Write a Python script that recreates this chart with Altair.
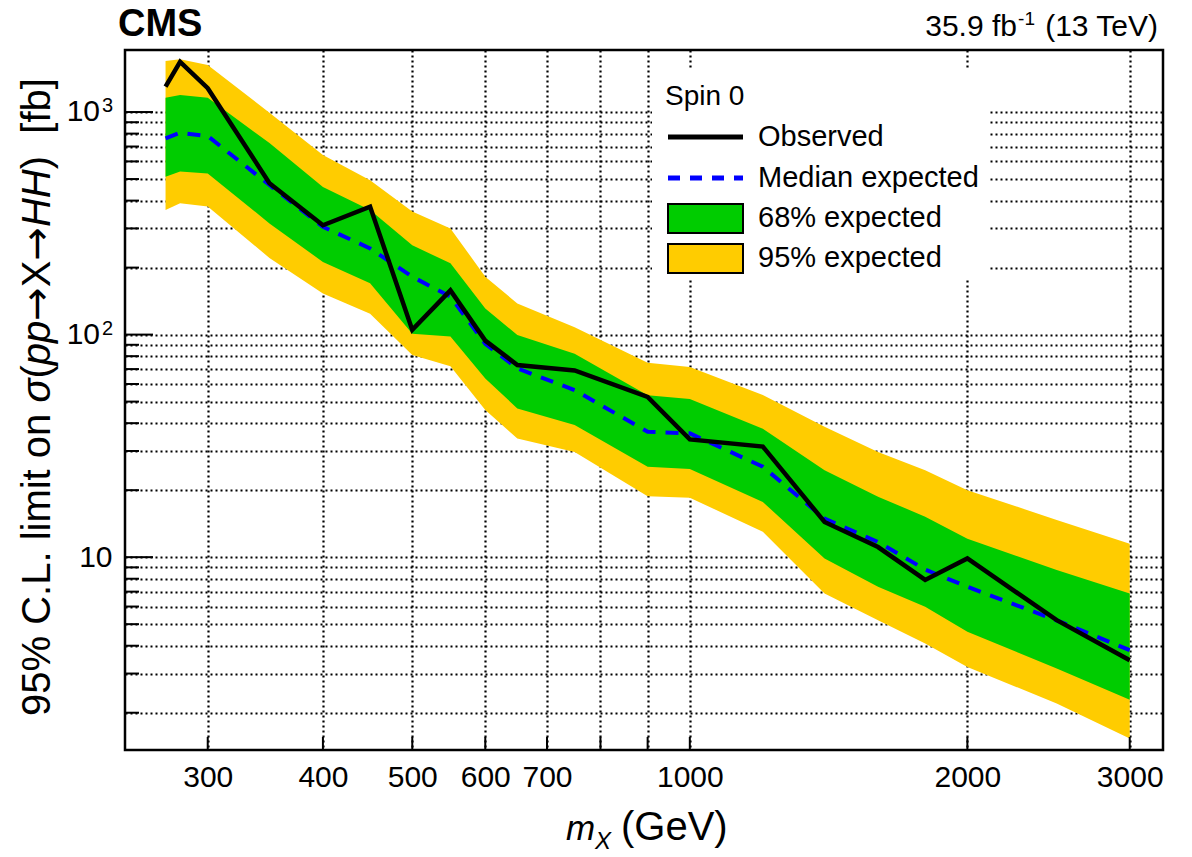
import altair as alt
import pandas as pd

# Resonance mass points (GeV)
mass = [270, 280, 300, 350, 400, 450, 500, 550, 600, 650, 750, 900, 1000,
        1200, 1400, 1600, 1800, 2000, 2500, 3000]

# 95% CL upper limits on sigma(pp -> X -> HH) in fb
observed = [1300, 1680, 1280, 479, 310, 376, 105, 158, 94, 73, 69, 52.5, 33.8,
            31.4, 14.4, 11.1, 7.9, 9.87, 5.21, 3.44]
expected = [762, 807, 780, 470, 305, 244, 182, 148, 91, 70.5, 56.3, 36.6, 36.0,
            25.5, 14.9, 11.7, 8.8, 7.36, 5.2, 3.82]
band68_lo = [512, 540, 530, 316, 212, 170, 101, 98, 63.5, 46.6, 39.2, 25.5, 24.9,
             17.7, 9.87, 7.36, 5.98, 4.62, 3.16, 2.29]
band68_hi = [1159, 1192, 1159, 726, 461, 363, 252, 209, 131, 99.5, 82, 53.4, 51.3,
             37.8, 24.6, 18.7, 15.2, 12.1, 8.75, 6.87]
band95_lo = [363, 389, 376, 221, 153, 124, 81, 72, 45.8, 34.1, 29.7, 18.8, 18.5,
             13.0, 6.87, 5.21, 4.09, 3.21, 2.20, 1.53]
band95_hi = [1694, 1725, 1626, 993, 641, 494, 357, 300, 182, 138, 108, 74.8, 71.6,
             53.5, 38.5, 29.7, 24.6, 20.0, 14.7, 11.5]

# Axis ticks / grid positions
x_grid_values = [300, 400, 500, 600, 700, 800, 900, 1000, 2000, 3000]
y_major = [10, 100, 1000]
y_minor = [2, 3, 4, 5, 6, 7, 8, 9, 20, 30, 40, 50, 60, 70, 80, 90,
           200, 300, 400, 500, 600, 700, 800, 900]
# Power-of-ten labels drawn as "10" with a raised exponent
pow_values = [100, 1000]
pow_exponents = ["2", "3"]

legend_title = "Spin 0"
legend_labels = ["Observed", "Median expected", "68% expected", "95% expected"]

FONT = "Liberation Sans"
W, H = 1038, 700

df = pd.DataFrame({
    "mass": mass, "obs": observed, "exp": expected,
    "lo68": band68_lo, "hi68": band68_hi,
    "lo95": band95_lo, "hi95": band95_hi,
})

xscale = alt.Scale(type="log", domain=[244, 3260], nice=False)
yscale = alt.Scale(type="log", domain=[1.36, 1900], nice=False)

common_axis = dict(
    grid=True, gridColor="black", gridDash=[2, 3], gridWidth=2.2,
    ticks=False, tickSize=0, domain=False, labelFontSize=30,
    labelColor="black", labelFont=FONT, labelOverlap=False,
    labelFlush=False, title=None,
)
x_axis = alt.Axis(
    values=x_grid_values,
    labelExpr="datum.value == 800 || datum.value == 900 ? '' : format(datum.value, 'd')",
    labelBaseline="alphabetic", labelPadding=36, **common_axis,
)
y_axis = alt.Axis(
    values=sorted(y_major + y_minor),
    labelExpr="datum.value == 10 ? '10' : ''",
    labelBaseline="middle", labelPadding=13, **common_axis,
)


def X(field):
    return alt.X(field, scale=xscale, axis=x_axis)


def Y(field):
    return alt.Y(field, scale=yscale, axis=y_axis)


base = alt.Chart(df)

band95 = base.mark_area(color="#FFCC00").encode(
    x=X("mass:Q"), y=Y("lo95:Q"), y2="hi95:Q")
band68 = base.mark_area(color="#00CC00").encode(
    x=X("mass:Q"), y=Y("lo68:Q"), y2="hi68:Q")
median = base.mark_line(color="#0000FF", strokeDash=[13, 10], strokeWidth=4).encode(
    x=X("mass:Q"), y=Y("exp:Q"))
obs_line = base.mark_line(color="black", strokeWidth=4.5, strokeJoin="miter").encode(
    x=X("mass:Q"), y=Y("obs:Q"))

# Inward tick marks along the bottom and left frame edges
x_ticks = alt.Chart(pd.DataFrame({"v": x_grid_values})).mark_rule(
    color="black", strokeWidth=2).encode(
    x=X("v:Q"), y=alt.value(H), y2=alt.value(H - 13))
y_ticks_major = alt.Chart(pd.DataFrame({"v": y_major})).mark_rule(
    color="black", strokeWidth=2).encode(
    y=Y("v:Q"), x=alt.value(0), x2=alt.value(28))
y_ticks_minor = alt.Chart(pd.DataFrame({"v": y_minor})).mark_rule(
    color="black", strokeWidth=2).encode(
    y=Y("v:Q"), x=alt.value(0), x2=alt.value(14))

# 10^2, 10^3 labels on the y axis
pow_df = pd.DataFrame({"v": pow_values, "e": pow_exponents, "b": ["10", "10"]})
pow_base = alt.Chart(pow_df).mark_text(
    align="right", baseline="middle", fontSize=30, font=FONT, color="black").encode(
    y=Y("v:Q"), x=alt.value(-25), text="b:N")
pow_exp = alt.Chart(pow_df).mark_text(
    align="left", baseline="alphabetic", fontSize=20, font=FONT, color="black").encode(
    y=Y("v:Q"), x=alt.value(-23), text="e:N")


def text(t, x, y, size, align="left", baseline="alphabetic", font=FONT, **kw):
    return alt.Chart(pd.DataFrame({"t": [t]})).mark_text(
        align=align, baseline=baseline, fontSize=size, font=font,
        color="black", **kw).encode(
        text="t:N", x=alt.value(x), y=alt.value(y))


one = pd.DataFrame({"k": [0]})

# Legend
leg_box = alt.Chart(one).mark_rect(fill="white").encode(
    x=alt.value(527), x2=alt.value(865), y=alt.value(20), y2=alt.value(230))
leg_obs = alt.Chart(one).mark_rule(color="black", strokeWidth=5).encode(
    x=alt.value(543), x2=alt.value(618), y=alt.value(87))
leg_exp = alt.Chart(one).mark_rule(color="#0000FF", strokeWidth=5,
                                   strokeDash=[12, 10]).encode(
    x=alt.value(543), x2=alt.value(618), y=alt.value(128))
leg_68 = alt.Chart(one).mark_rect(fill="#00CC00", stroke="black", strokeWidth=2).encode(
    x=alt.value(543), x2=alt.value(618), y=alt.value(154), y2=alt.value(183))
leg_95 = alt.Chart(one).mark_rect(fill="#FFCC00", stroke="black", strokeWidth=2).encode(
    x=alt.value(543), x2=alt.value(618), y=alt.value(194), y2=alt.value(223))
leg_texts = [text(legend_title, 540, 47, 28, baseline="middle")]
for lbl, yy in zip(legend_labels, [87, 128, 168, 208]):
    leg_texts.append(text(lbl, 633, yy, 29, baseline="middle"))

# Header texts
cms = text("CMS", -7, -14, 38, fontWeight="bold")
lumi_a = text("35.9 fb", 892, -14, 30, align="right")
lumi_b = text("-1", 910, -25, 19, align="right")
lumi_c = text("(13 TeV)", 1033, -14, 30, align="right")

# x-axis title: m_X (GeV)
xt_m = text("m", 441, 790, 35, fontStyle="italic")
xt_x = text("X", 470, 799, 24, fontStyle="italic")
xt_u = text("(GeV)", 496, 790, 40)

# y-axis title, rotated, assembled from upright and italic pieces
YT_SIZE = 40
yt_pieces = [
    ("95% C.L. limit on ", "normal", FONT, 7.836),
    ("\u03c3", "italic", FONT, 0.60),
    ("(", "normal", FONT, 0.333),
    ("pp", "italic", FONT, 1.112),
    ("\u2192", "normal", "DejaVu Sans", 0.838),
    ("X", "normal", FONT, 0.667),
    ("\u2192", "normal", "DejaVu Sans", 0.838),
    ("HH", "italic", FONT, 1.444),
    (")\u00a0 [fb]", "normal", FONT, 2.279),
]
yt_layers = []
pos = 666.0
for piece, style, fnt, em in yt_pieces:
    yt_layers.append(text(piece, -75, pos, YT_SIZE, angle=270,
                          fontStyle=style, font=fnt))
    pos -= em * YT_SIZE

chart = alt.layer(
    band95, band68, median, obs_line,
    x_ticks, y_ticks_major, y_ticks_minor, pow_base, pow_exp,
    leg_box, leg_obs, leg_exp, leg_68, leg_95, *leg_texts,
    cms, lumi_a, lumi_b, lumi_c, xt_m, xt_x, xt_u, *yt_layers,
).properties(
    width=W, height=H,
    autosize=alt.AutoSizeParams(type="none"),
    padding={"left": 125, "top": 50, "right": 29, "bottom": 107},
    background="white",
).configure(font=FONT).configure_view(stroke="black", strokeWidth=2.5)

chart.save("out.html", embed_options={"renderer": "svg", "actions": False})
